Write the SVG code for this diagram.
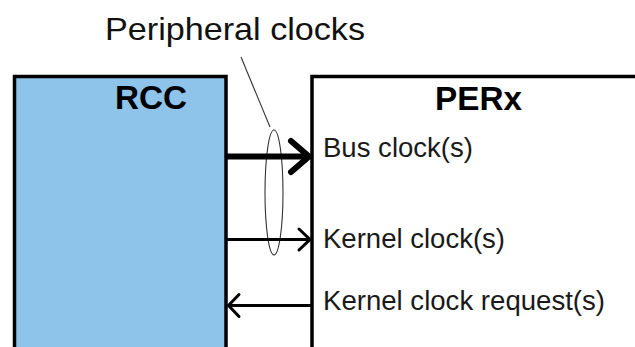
<svg xmlns="http://www.w3.org/2000/svg" width="635" height="347" viewBox="0 0 635 347">
<style>
.box{stroke:#000;stroke-width:3.5}
.title{font-family:"Liberation Sans",Arial,sans-serif;font-weight:bold;font-size:33px;fill:#000}
.lbl{font-family:"Liberation Sans",Arial,sans-serif;font-size:27px;fill:#1a1a1a}
.conn{fill:none;stroke:#000;stroke-linejoin:miter}
.thin{fill:none;stroke:#333;stroke-width:1.1}
</style>
<rect width="635" height="347" fill="#fff"/>
<g id="rcc">
<rect class="box" x="14.5" y="76.5" width="211.5" height="300" fill="#8EC3EA"/>
<text class="title" x="115" y="108.5" textLength="72" lengthAdjust="spacingAndGlyphs">RCC</text>
</g>
<g id="perx">
<rect class="box" x="312" y="76.5" width="360" height="300" fill="#fff"/>
<text class="title" x="435" y="110" textLength="87" lengthAdjust="spacingAndGlyphs">PERx</text>
<text class="lbl" x="323" y="157" textLength="150" lengthAdjust="spacingAndGlyphs">Bus clock(s)</text>
<text class="lbl" x="323" y="248" textLength="182" lengthAdjust="spacingAndGlyphs">Kernel clock(s)</text>
<text class="lbl" x="323" y="310" textLength="282" lengthAdjust="spacingAndGlyphs">Kernel clock request(s)</text>
</g>
<g id="peripheral-clocks">
<text class="lbl" style="font-size:32px;fill:#111" x="105" y="39.5" textLength="260" lengthAdjust="spacingAndGlyphs">Peripheral clocks</text>
<line class="thin" x1="241" y1="57" x2="270" y2="127"/>
<ellipse class="thin" cx="274" cy="192.5" rx="9" ry="62.5"/>
</g>
<g id="connectors">
<line class="conn" x1="227" y1="156.5" x2="309" y2="156.5" stroke-width="6"/>
<polyline class="conn" points="291,141 309,156.5 291,172" stroke-width="6" stroke-linecap="round"/>
<line class="conn" x1="227" y1="239.5" x2="310" y2="239.5" stroke-width="3"/>
<polyline class="conn" points="299,229 310,239.5 299,250" stroke-width="3" stroke-linecap="round"/>
<line class="conn" x1="311" y1="305.5" x2="229" y2="305.5" stroke-width="3"/>
<polyline class="conn" points="239,294.5 228.5,305.5 239,316.5" stroke-width="3" stroke-linecap="round"/>
</g>
</svg>
